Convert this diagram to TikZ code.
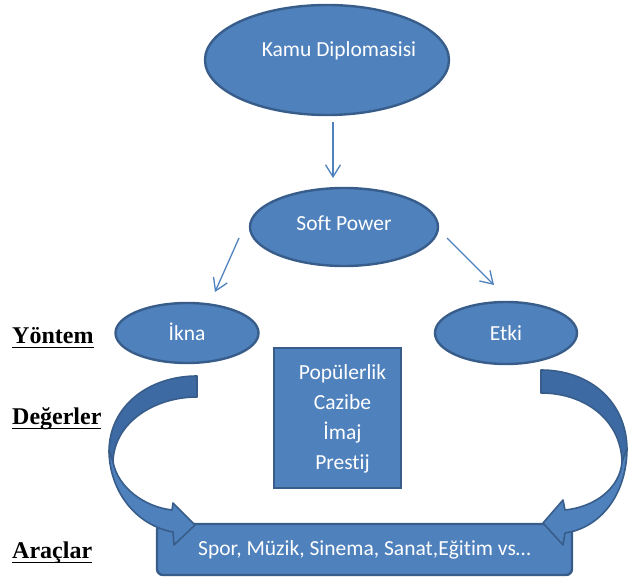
\documentclass[tikz,border=0pt]{standalone}
\usepackage{fontspec}
\setmainfont{Carlito}[Ligatures=NoCommon]
\newfontfamily\labelfont{Liberation Serif}
\usetikzlibrary{shapes.geometric,arrows.meta,calc}
\definecolor{fillblue}{HTML}{4F81BD}
\definecolor{edgeblue}{HTML}{385D8A}
\definecolor{backblue}{HTML}{3E6AA3}
\newcommand\ulword[1]{\setbox0\hbox{#1}\rlap{\vrule height -3.5pt depth 5.3pt width \wd0}\box0}
\begin{document}
\begin{tikzpicture}[x=1pt,y=-1pt,
  bluefill/.style={fill=fillblue, draw=edgeblue, line width=2.4pt, text=white,
    font=\fontsize{21.5}{30}\selectfont},
  oval/.style={bluefill, ellipse, inner sep=0pt, text height=14pt, text depth=0pt},
  conn/.style={draw=fillblue, line width=1.3pt, -{Straight Barb[length=12pt,width=15pt]}},
  lbl/.style={font=\labelfont\bfseries\fontsize{24}{28}\selectfont, anchor=base west, inner sep=0pt},
  curvefront/.style={fill=fillblue, draw=edgeblue, line width=1.6pt, line join=round},
  curveback/.style={fill=backblue, draw=edgeblue, line width=1.6pt, line join=round}]
\useasboundingbox (0,0) rectangle (629,577);

% ellipses
\node[oval, minimum width=244pt, minimum height=110pt, text height=15pt, text depth=21pt] (kamu) at (327,60) {\makebox[0pt]{\hspace*{24pt}Kamu Diplomasisi}};
\node[oval, minimum width=188pt, minimum height=78pt, text depth=6pt] (soft) at (344,227) {Soft Power};
\node[oval, minimum width=143pt, minimum height=60pt] (ikna) at (187,333) {İkna};
\node[oval, minimum width=142pt, minimum height=62pt] (etki) at (506,333) {Etki};

% values box
\node[bluefill, rectangle, minimum width=127pt, minimum height=140pt] (deger) at (337.5,418)
  {\makebox[0pt]{\hspace*{10pt}\begin{tabular}{@{}c@{}}Popülerlik\\Cazibe\\İmaj\\Prestij\end{tabular}}};

% tools box
\node[bluefill, rectangle, rounded corners=6pt, minimum width=415pt, minimum height=51pt] (arac) at (364.5,549.5) {Spor, Müzik, Sinema, Sanat,Eğitim vs…};

% labels
\node[lbl] (yontem) at (12,343) {\ulword{Yöntem}};
\node[lbl] (degerler) at (12,424) {\ulword{Değerler}};
\node[lbl] (araclar) at (12,558) {\ulword{Araçlar}};

% straight connectors
\draw[conn] ($(kamu.center)+(6,62)$) -- ($(soft.center)+(-11,-49)$);
\draw[conn] ($(soft.center)+(-105,11)$) -- ($(ikna.center)+(28,-41)$);
\draw[conn] ($(soft.center)+(103,11)$) -- ($(etki.center)+(-12,-48)$);

% left curved arrow
\path[curveback] (197,376) .. controls (150,376) and (109,405) .. (109,452)
  -- (113,462) .. controls (114,422) and (155,397) .. (197,397) -- cycle;
\path[curvefront] (109,450) .. controls (109,490) and (135,525) .. (173,532)
  -- (174,545) -- (195,525) -- (173,503) -- (172,510)
  .. controls (145,507) and (118,488) .. (113,462) -- cycle;

% right curved arrow
\path[curveback] (541,370) .. controls (590,370) and (627,402) .. (627,450)
  -- (622,462) .. controls (621,420) and (585,393) .. (541,393) -- cycle;
\path[curvefront] (627,448) .. controls (627,495) and (600,528) .. (565,533)
  -- (563,545) -- (543,523) -- (563,500) -- (565,510)
  .. controls (595,507) and (620,488) .. (622,462) -- cycle;
\end{tikzpicture}
\end{document}
